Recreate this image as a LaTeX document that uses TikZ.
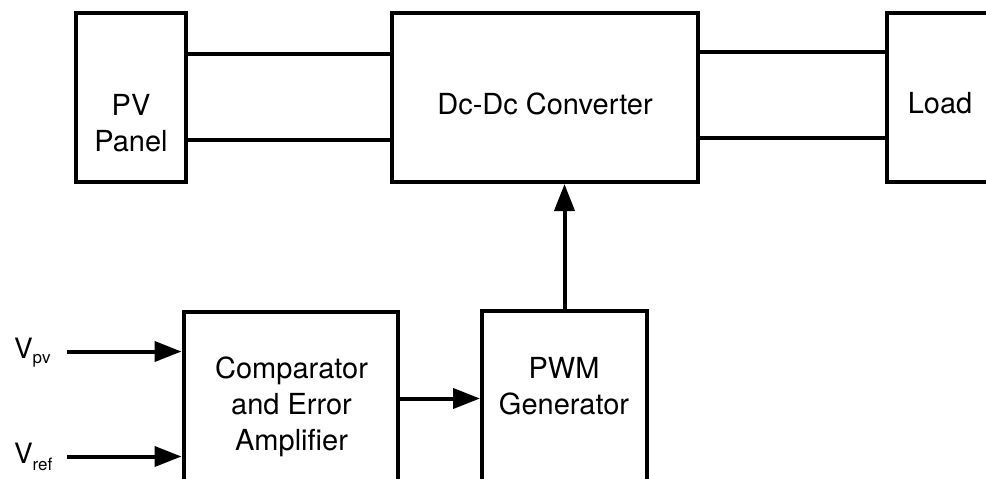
\documentclass[tikz,border=0pt]{standalone}
\usepackage{fontspec}
\setmainfont{TeX Gyre Heros}
\usetikzlibrary{arrows.meta}
\begin{document}
\begin{tikzpicture}[x=1pt,y=-1pt,line width=4pt,
  box/.style={draw,line width=4pt,inner sep=0pt},
  lbl/.style={font=\fontsize{29}{36}\selectfont,inner sep=0pt,align=center,anchor=north},
  vlbl/.style={font=\fontsize{28}{34}\selectfont,inner sep=0pt,anchor=base west},
  arr/.style={-{Triangle[length=27pt,width=20pt]}}]
\useasboundingbox (0,0) rectangle (986,479);
\fill[white] (0,0) rectangle (986,479);
\clip (0,0) rectangle (986,479);
% boxes
\node[box,minimum width=110.5pt,minimum height=169pt] (pv) at (130.75,97.5) {};
\node[box,minimum width=306pt,minimum height=169pt] (dc) at (545,97.5) {};
\node[box,minimum width=123.5pt,minimum height=169pt] (load) at (948.25,97.5) {};
\node[box,minimum width=214.5pt,minimum height=208.5pt] (comp) at (290.75,415.75) {};
\node[box,minimum width=165pt,minimum height=209pt] (pwm) at (564.5,415.5) {};
% texts
\node[lbl] (pvt) at (131,92) {PV\\Panel};
\node[lbl] (dct) at (545,91) {Dc-Dc Converter};
\node[lbl] (loadt) at (940,90) {Load};
\node[lbl] (compt) at (291.5,355) {Comparator\\and Error\\Amplifier};
\node[lbl] (pwmt) at (564,355) {PWM\\Generator};
\node[vlbl] (vpv) at (12,358) {V\raisebox{-5pt}{\fontsize{17}{20}\selectfont pv}};
\node[vlbl] (vref) at (12,463) {V\raisebox{-7pt}{\fontsize{17}{20}\selectfont ref}};
% connectors
\draw (pv.east |- 0,53.5) -- (dc.west |- 0,53.5);
\draw (pv.east |- 0,140) -- (dc.west |- 0,140);
\draw (dc.east |- 0,52) -- (load.west |- 0,52);
\draw (dc.east |- 0,138) -- (load.west |- 0,138);
\coordinate (vpvs) at (67,351.5);
\coordinate (vrefs) at (67,456.5);
\draw[arr] (vpvs) -- (vpvs -| comp.west);
\draw[arr] (vrefs) -- (vrefs -| comp.west);
\draw[arr] (comp.east |- 0,398.5) -- (pwm.west |- 0,398.5);
\draw[arr] (pwm.north) -- (pwm.north |- dc.south);
\end{tikzpicture}
\end{document}
